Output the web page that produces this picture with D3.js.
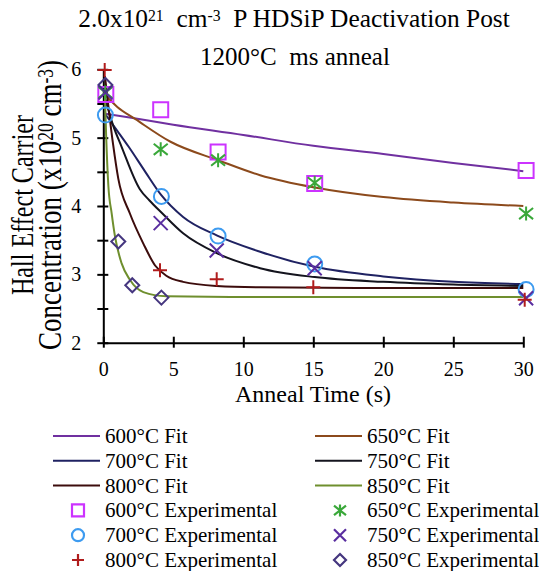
<!DOCTYPE html>
<html>
<head>
<meta charset="utf-8">
<script src="https://cdn.jsdelivr.net/npm/d3@7"></script>
<style>
body { margin: 0; background: #fff; }
text { font-family: "Liberation Serif", "Times New Roman", serif; fill: #000; }
</style>
</head>
<body>
<svg id="chart" width="539" height="571"></svg>
<script>
// fitted curves, [anneal time (s), carrier conc (x1e20)]
var fit600 = [[0.15,5.35],[2,5.29],[5,5.19],[10,5.04],[15,4.88],[20,4.76],[25,4.63],[30,4.51]];
var fit650 = [[0.15,5.62],[1,5.45],[2.3,5.27],[4.8,4.94],[8.2,4.67],[11.2,4.45],[15.1,4.27],[20,4.13],[25,4.05],[30,4.0]];
var fit700 = [[0.12,5.35],[1,5.1],[1.8,4.87],[3,4.5],[4.1,4.17],[5.7,3.84],[8.1,3.57],[11.2,3.33],[15.1,3.11],[20,2.97],[25,2.89],[30,2.86]];
var fit750 = [[0.12,5.58],[0.7,5.18],[1.3,4.87],[2.6,4.25],[3.3,4.08],[4.17,3.9],[5.7,3.6],[8.1,3.31],[11.2,3.09],[15.1,2.96],[20,2.89],[25,2.85],[30,2.83]];
var fit800 = [[0.12,5.9],[0.7,4.9],[1.07,4.4],[1.9,3.89],[2.86,3.45],[3.7,3.13],[4.5,2.98],[5.7,2.89],[8.1,2.83],[11.2,2.81],[20,2.8],[30,2.8]];
var fit850 = [[0.1,5.72],[0.2,5.05],[0.36,4.3],[0.6,3.89],[0.84,3.55],[1.31,3.16],[1.9,2.92],[2.86,2.74],[4.5,2.68],[10,2.67],[30,2.67]];

// experimental points
var exp600 = [[0.18,5.63],[4.1,5.41],[8.2,4.79],[15.1,4.33],[30.2,4.52]];
var exp650 = [[0.15,5.66],[4.1,4.83],[8.2,4.67],[15.1,4.34],[30.2,3.89]];
var exp700 = [[0.15,5.33],[4.15,4.14],[8.2,3.56],[15.1,3.15],[30.2,2.78]];
var exp750 = [[0.15,5.66],[4.1,3.75],[8.1,3.35],[15.1,3.09],[30.2,2.65]];
var exp800 = [[0.1,5.99],[4.05,3.06],[8.1,2.93],[15.0,2.81],[30.1,2.63]];
var exp850 = [[0.15,5.77],[1.07,3.48],[2.07,2.84],[4.15,2.66]];

var temps = ["600°C", "650°C", "700°C", "750°C", "800°C", "850°C"];
var xTicks = [0, 5, 10, 15, 20, 25, 30];
var yTicks = [2, 2.5, 3, 3.5, 4, 4.5, 5, 5.5, 6];

var fitColors = ["#7030a0", "#8c4a1c", "#1f2262", "#14141e", "#3c0c0c", "#6f8f2e"];
var expColors = ["#cc33ff", "#3aa83a", "#3d9bf0", "#5a2ea0", "#b01c1c", "#45367f"];
var shapes = ["square", "star", "circle", "x", "plus", "diamond"];

var fits = [fit600, fit650, fit700, fit750, fit800, fit850];
var exps = [exp600, exp650, exp700, exp750, exp800, exp850];

var svg = d3.select("#chart");

var x = d3.scaleLinear().domain([0, 30]).range([103.3, 523.3]);
var y = d3.scaleLinear().domain([2, 6]).range([342.7, 69.3]);

// scale a text's font so it spans the width seen in the original
function fitWidth(sel, target) {
  var w = sel.node().getBBox().width;
  var fs = parseFloat(sel.style("font-size"));
  sel.style("font-size", (fs * target / w) + "px");
}

// marker shapes drawn as open strokes
function markerPath(shape, s) {
  if (shape == "square") return "M" + (-s) + "," + (-s) + "H" + s + "V" + s + "H" + (-s) + "Z";
  if (shape == "circle") return d3.symbol(d3.symbolCircle, Math.PI * s * s)();
  if (shape == "diamond") return "M0," + (-s) + "L" + s + ",0L0," + s + "L" + (-s) + ",0Z";
  if (shape == "plus") return "M" + (-s) + ",0H" + s + "M0," + (-s) + "V" + s;
  if (shape == "x") return "M" + (-s) + "," + (-s) + "L" + s + "," + s + "M" + (-s) + "," + s + "L" + s + "," + (-s);
  // star: x with a vertical bar
  return "M" + (-s) + "," + (-s * 0.8) + "L" + s + "," + (s * 0.8) + "M" + (-s) + "," + (s * 0.8) + "L" + s + "," + (-s * 0.8) + "M0," + (-s) + "V" + s;
}
var plotSize = {square: 7.5, star: 7, circle: 7.5, x: 7, plus: 7, diamond: 7};

// title
var title = svg.append("text")
  .attr("x", 294)
  .attr("y", 27)
  .attr("text-anchor", "middle")
  .style("font-size", "24px");
title.append("tspan").text("2.0x10");
title.append("tspan").attr("dy", "-0.35em").style("font-size", "0.62em").text("21");
title.append("tspan").attr("dy", "0.217em").text("\u00a0 cm");
title.append("tspan").attr("dy", "-0.35em").style("font-size", "0.62em").text("-3");
title.append("tspan").attr("dy", "0.217em").text("\u00a0 P HDSiP Deactivation Post");
fitWidth(title, 432);

var title2 = svg.append("text")
  .attr("x", 295)
  .attr("y", 65)
  .attr("text-anchor", "middle")
  .style("font-size", "25px")
  .text("1200°C\u00a0 ms anneal");
fitWidth(title2, 190);

// axes
var xAxis = svg.append("g")
  .attr("transform", "translate(0," + y(2) + ")")
  .call(d3.axisBottom(x).tickValues(xTicks).tickSizeOuter(0).tickFormat(d3.format("d")));

var yAxis = svg.append("g")
  .attr("transform", "translate(" + x(0) + ",0)")
  .call(d3.axisLeft(y).tickValues(yTicks).tickSizeOuter(0)
    .tickFormat(function(d) { return Number.isInteger(d) ? d : ""; }));

xAxis.select(".domain").attr("stroke", "#000").attr("stroke-width", 2);
yAxis.select(".domain").attr("stroke", "#000").attr("stroke-width", 2);
xAxis.selectAll(".tick line").attr("y1", -6).attr("y2", 5).attr("stroke-width", 2);
yAxis.selectAll(".tick line").attr("x1", -6).attr("x2", 5).attr("stroke-width", 2);
xAxis.selectAll(".tick text")
  .attr("y", 19)
  .style("font-size", "20px")
  .style("font-family", "Liberation Serif");
yAxis.selectAll(".tick text")
  .attr("x", -22)
  .style("font-size", "20px")
  .style("font-family", "Liberation Serif");

// axis titles
var xTitle = svg.append("text")
  .attr("x", 313)
  .attr("y", 402)
  .attr("text-anchor", "middle")
  .style("font-size", "24px")
  .text("Anneal Time (s)");
fitWidth(xTitle, 156);

// y title is squashed along its length in the original
var yTitle = svg.append("g")
  .attr("transform", "translate(0,205) scale(1,0.78)");

var yl1 = yTitle.append("text")
  .attr("transform", "rotate(-90)")
  .attr("x", 0)
  .attr("y", 33)
  .attr("text-anchor", "middle")
  .style("font-size", "31px")
  .text("Hall Effect Carrier");
fitWidth(yl1, 180 / 0.78);

var yl = yTitle.append("text")
  .attr("transform", "rotate(-90)")
  .attr("x", 0)
  .attr("y", 61)
  .attr("text-anchor", "middle")
  .style("font-size", "31px");
yl.append("tspan").text("Concentration (x10");
yl.append("tspan").attr("dy", "-0.35em").style("font-size", "0.65em").text("20");
yl.append("tspan").attr("dy", "0.23em").text(" cm");
yl.append("tspan").attr("dy", "-0.35em").style("font-size", "0.65em").text("-3");
yl.append("tspan").attr("dy", "0.23em").text(")");
fitWidth(yl, 290 / 0.78);

// fit lines
var line = d3.line()
  .x(function(d) { return x(d[0]); })
  .y(function(d) { return y(d[1]); })
  .curve(d3.curveMonotoneX);

svg.selectAll(".fit")
  .data(fits)
  .enter()
  .append("path")
  .attr("class", "fit")
  .attr("fill", "none")
  .attr("stroke", function(d, i) { return fitColors[i]; })
  .attr("stroke-width", 2)
  .attr("d", line);

// experimental markers
exps.forEach(function(series, i) {
  svg.selectAll(".exp" + i)
    .data(series)
    .enter()
    .append("path")
    .attr("class", "exp" + i)
    .attr("transform", function(d) { return "translate(" + x(d[0]) + "," + y(d[1]) + ")"; })
    .attr("d", markerPath(shapes[i], plotSize[shapes[i]]))
    .attr("fill", "none")
    .attr("stroke", expColors[i])
    .attr("stroke-width", 2);
});

// legend
var legendItems = [];
temps.forEach(function(t, i) {
  legendItems.push({label: t + " Fit", type: "line", color: fitColors[i]});
});
temps.forEach(function(t, i) {
  legendItems.push({label: t + " Experimental", type: shapes[i], color: expColors[i]});
});

var legend = svg.selectAll(".legend")
  .data(legendItems)
  .enter()
  .append("g")
  .attr("class", "legend")
  .attr("transform", function(d, i) {
    var col = i % 2;
    var row = Math.floor(i / 2);
    return "translate(" + (col == 0 ? 53 : 315) + "," + (436 + row * 24.8) + ")";
  });

legend.filter(function(d) { return d.type == "line"; })
  .append("line")
  .attr("x1", 0)
  .attr("x2", 47)
  .attr("stroke", function(d) { return d.color; })
  .attr("stroke-width", 2);

legend.filter(function(d) { return d.type != "line"; })
  .append("path")
  .attr("transform", "translate(25,0)")
  .attr("d", function(d) { return markerPath(d.type, 6); })
  .attr("fill", "none")
  .attr("stroke", function(d) { return d.color; })
  .attr("stroke-width", 2.2);

legend.append("text")
  .attr("x", 52)
  .attr("dy", "0.33em")
  .style("font-size", "21px")
  .text(function(d) { return d.label; });
</script>
</body>
</html>
